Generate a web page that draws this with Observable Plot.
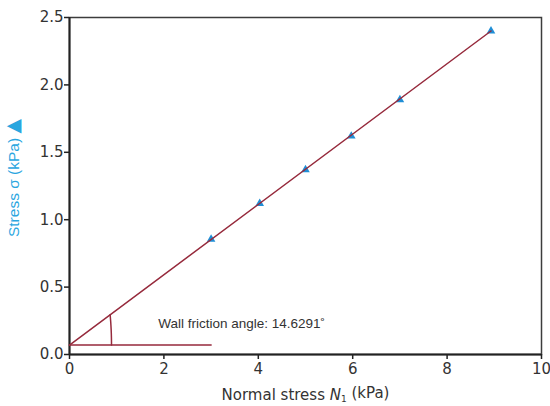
<!DOCTYPE html>
<html>
<head>
<meta charset="utf-8">
<script src="https://cdn.jsdelivr.net/npm/d3@7"></script>
<script src="https://cdn.jsdelivr.net/npm/@observablehq/plot@0.6"></script>
<style>
  html, body { margin: 0; padding: 0; background: #fff; }
  #chart { width: 550px; height: 406px; }
</style>
</head>
<body>
<div id="chart"></div>
<script>
// Measured points
const normalStress = [3.0, 4.03, 5.0, 5.97, 7.0, 8.93];
const shearStress  = [0.855, 1.12, 1.37, 1.62, 1.89, 2.40];

// Fitted wall yield locus (end points)
const fitX = [0, 8.93];
const fitY = [0.07, 2.40];

// Reference horizontal line
const refX = [0, 3];
const refY = [0.07, 0.07];

// Angle annotation
const frictionAngle = 14.6291;
const arcRadius = 0.89;
const arcSteps = [0, 0.25, 0.5, 0.75, 1];
const labelText = "Wall friction angle: 14.6291\u02DA";
const labelPos = { x: 1.88, y: 0.23 };

const xTicks = [0, 2, 4, 6, 8, 10];
const yTicks = [0, 0.5, 1.0, 1.5, 2.0, 2.5];

const red = "#962a3c";
const blue = "#1f8ed6";
const labelBlue = "#2aa6df";
const ink = "#333333";
const wideFont = "DejaVu Sans, Verdana, sans-serif";
const font = "Liberation Sans, Arial, sans-serif";

const points = normalStress.map((x, i) => ({x, y: shearStress[i]}));
const fit = fitX.map((x, i) => ({x, y: fitY[i]}));
const ref = refX.map((x, i) => ({x, y: refY[i]}));
const arc = arcSteps.map(t => {
  const a = t * frictionAngle * Math.PI / 180;
  return {x: arcRadius * Math.cos(a), y: refY[0] + arcRadius * Math.sin(a)};
});

const chart = Plot.plot({
  width: 550,
  height: 406,
  marginLeft: 69,
  marginRight: 9,
  marginTop: 17,
  marginBottom: 52,
  style: { fontFamily: wideFont, fontSize: "15px", color: ink, background: "#fff" },
  x: { domain: [0, 10] },
  y: { domain: [0, 2.5] },
  marks: [
    Plot.frame({ stroke: "#3c3c3c", strokeWidth: 1.5 }),
    Plot.axisX({ ticks: xTicks, tickSize: 5, tickPadding: 4, stroke: "#222", strokeWidth: 1.5, fill: ink, label: "Normal stress N1 (kPa)", labelAnchor: "center", labelArrow: "none", labelOffset: 45 }),
    Plot.axisY({ ticks: yTicks, tickSize: 5, tickPadding: 1, tickFormat: d3.format(".1f"), stroke: "#222", strokeWidth: 1.5, fill: ink, label: null }),
    Plot.ruleX([0], { stroke: "#222", strokeWidth: 2 }),
    Plot.ruleY([0], { stroke: "#222", strokeWidth: 2 }),
    Plot.line(ref, { x: "x", y: "y", stroke: red, strokeWidth: 1.5 }),
    Plot.line(arc, { x: "x", y: "y", stroke: red, strokeWidth: 1.5, curve: "natural" }),
    Plot.dot(points, { x: "x", y: "y", symbol: "triangle", r: 3.2, fill: blue, stroke: "none" }),
    Plot.line(fit, { x: "x", y: "y", stroke: red, strokeWidth: 1.5 }),
    Plot.text([labelPos], { x: "x", y: "y", text: () => labelText, textAnchor: "start", fill: ink, fontSize: 13.5, fontFamily: font }),
    Plot.text(["Stress \u03C3 (kPa) \u25B2"], { frameAnchor: "left", textAnchor: "middle", dx: -55, dy: -8, rotate: -90, fill: labelBlue, fontSize: 15.5, fontFamily: font })
  ]
});

// Italic N with subscript 1 in the x-axis label
d3.select(chart).selectAll('g[aria-label="x-axis label"] text').each(function() {
  const t = d3.select(this);
  t.text(null);
  t.append("tspan").text("Normal stress ");
  t.append("tspan").attr("font-style", "italic").text("N");
  t.append("tspan").attr("font-size", "9px").attr("dy", "0.3em").text("1");
  t.append("tspan").attr("dy", "-0.3em").text(" (kPa)");
});

// Larger triangle glyph in the y-axis label
d3.select(chart).selectAll("text").each(function() {
  const t = d3.select(this);
  if (t.text() === "Stress \u03C3 (kPa) \u25B2") {
    t.text(null);
    t.append("tspan").text("Stress \u03C3 (kPa) ");
    t.append("tspan").attr("font-size", "19px").attr("font-family", wideFont).text("\u25B2");
  }
});

document.getElementById("chart").appendChild(chart);
</script>
</body>
</html>
